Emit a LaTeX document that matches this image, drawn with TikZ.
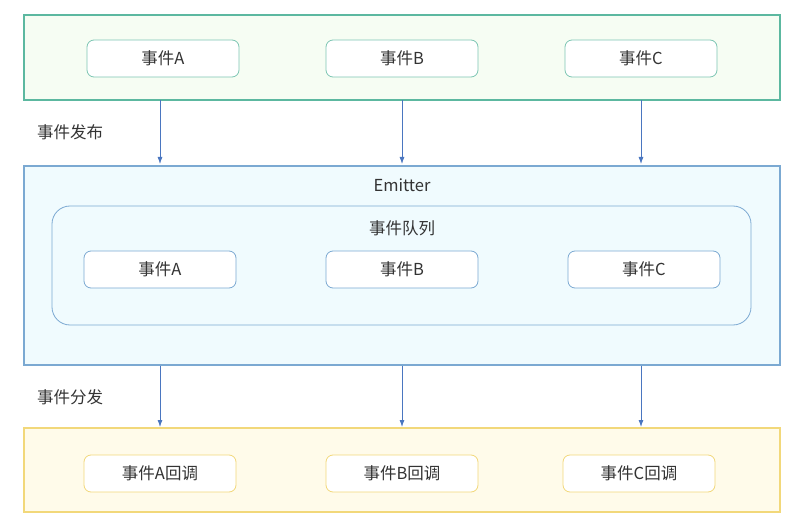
\documentclass[tikz,border=0pt]{standalone}
\usepackage{fontspec}
\setmainfont{Noto Sans CJK SC}
\usetikzlibrary{arrows.meta}
\begin{document}
\begin{tikzpicture}[x=1pt,y=-1pt,
  font=\fontsize{16.5}{19}\selectfont, text=black!80,
  big/.style={draw,line width=1.5pt,minimum width=756pt,inner sep=0pt},
  item/.style={draw,rounded corners=7pt,minimum width=152pt,minimum height=37pt,fill=white,line width=0.8pt},
  arr/.style={-{Latex[length=7pt,width=5pt]},line width=0.8pt}]
\definecolor{gb}{HTML}{5CB8A0}\definecolor{gf}{HTML}{F6FDF3}
\definecolor{bb}{HTML}{7BA9D2}\definecolor{bf}{HTML}{F0FBFE}
\definecolor{yb}{HTML}{F2D87A}\definecolor{yf}{HTML}{FFFBEA}
\definecolor{ar}{HTML}{4A76C0}
\useasboundingbox (0,0) rectangle (803,529);
\node[big,draw=gb,fill=gf,minimum height=85pt] (top) at (402,57.5) {};
\node[big,draw=bb,fill=bf,minimum height=199pt] (mid) at (402,265.5) {};
\node[big,draw=yb,fill=yf,minimum height=84pt] (bot) at (402,470) {};
\node[draw=bb,fill=bf,rounded corners=18pt,line width=0.8pt,minimum width=699pt,minimum height=119pt] (q) at (401.5,265.5) {};
\node (em) at (402,185) {Emitter};
\node (ql) at (402,228) {事件队列};
\foreach \n/\x/\t in {ta/163/事件A,tb/402/事件B,tc/641/事件C}
  \node[item,draw=gb!80] (\n) at (\x,58.5) {\t};
\foreach \n/\x/\t in {ma/160/事件A,mb/402/事件B,mc/644/事件C}
  \node[item,draw=bb] (\n) at (\x,269.5) {\t};
\foreach \n/\x/\t in {ba/160/事件A回调,bb/402/事件B回调,bc/639/事件C回调}
  \node[item,draw=yb] (\n) at (\x,473.5) {\t};
\node (pub) at (70,132) {事件发布};
\node (dis) at (70,397) {事件分发};
\foreach \x in {160,402,641}{
  \coordinate (s\x) at (\x,100.5); \coordinate (e\x) at (\x,164);
  \coordinate (u\x) at (\x,365.5); \coordinate (v\x) at (\x,427);
  \draw[arr,draw=ar] (s\x) -- (e\x);
  \draw[arr,draw=ar] (u\x) -- (v\x);}
\end{tikzpicture}
\end{document}
